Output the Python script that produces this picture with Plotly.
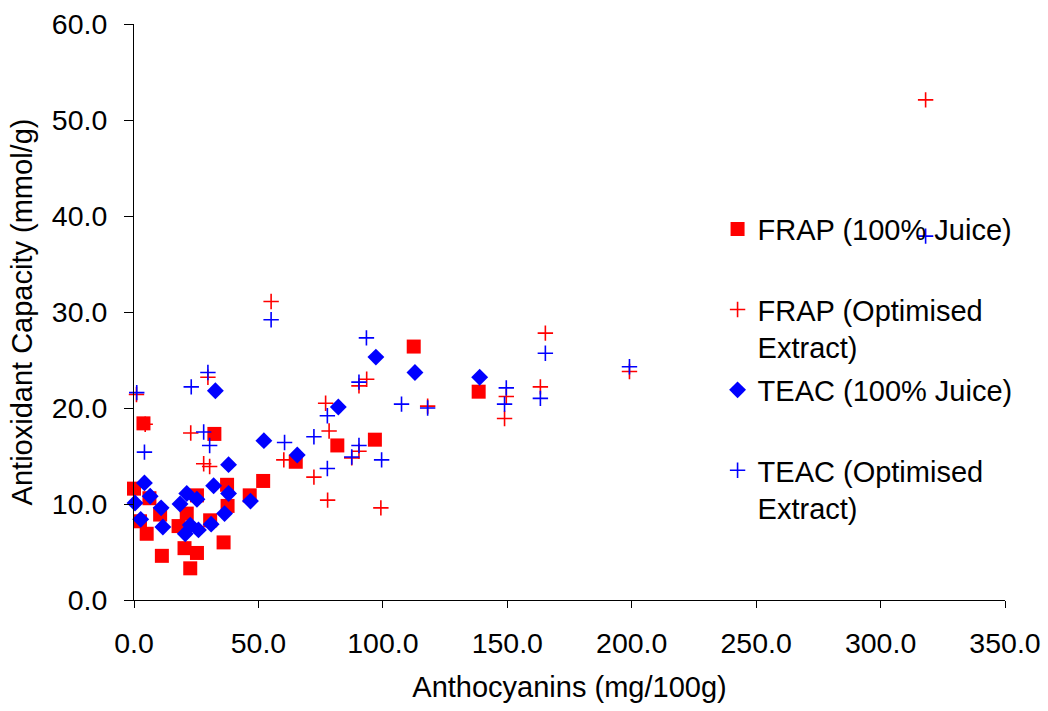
import plotly.graph_objects as go

# FRAP (100% Juice)
frap_juice_x = [0, 3.8, 2.4, 5.1, 6.2, 10.5, 11.2, 17.9, 20.3, 21.2, 22.6, 25.3, 25.3, 30.6, 32.3,
                36.0, 37.4, 37.6, 46.5, 51.9, 65.0, 81.7, 96.8, 112.4, 138.5]
frap_juice_y = [11.6, 18.4, 8.2, 6.9, 10.6, 8.9, 4.6, 7.7, 5.4, 9.0, 3.3, 10.9, 4.9, 8.3, 17.3,
                6.0, 12.0, 9.8, 10.9, 12.4, 14.4, 16.1, 16.7, 26.4, 21.7]

# FRAP (Optimised Extract)
frap_opt_x = [1.0, 4.5, 22.8, 28.0, 30.4, 29.7, 55.1, 60.2, 72.3, 77.0, 77.8, 78.4, 87.5, 90.4,
              90.4, 93.5, 99.2, 118.0, 148.9, 149.6, 163.3, 165.3, 199.1, 318.1]
frap_opt_y = [21.4, 18.3, 17.4, 14.2, 13.9, 23.2, 31.1, 14.6, 12.8, 20.5, 10.4, 17.6, 14.8, 15.5,
              22.3, 23.0, 9.6, 20.2, 18.9, 21.2, 22.2, 27.8, 23.8, 52.1]

# TEAC (100% Juice)
teac_juice_x = [0.4, 2.7, 4.2, 6.5, 10.9, 11.6, 18.5, 20.6, 21.2, 22.6, 25.3, 25.9, 31.0, 32.0,
                32.7, 36.4, 38.0, 38.0, 46.8, 52.2, 65.6, 82.1, 97.2, 112.9, 138.9]
teac_juice_y = [10.1, 8.4, 12.2, 10.8, 9.6, 7.6, 10.0, 6.9, 11.1, 7.8, 10.5, 7.3, 7.9, 11.9,
                21.8, 9.0, 11.1, 14.1, 10.3, 16.6, 15.1, 20.1, 25.3, 23.7, 23.2]

# TEAC (Optimised Extract)
teac_opt_x = [1.1, 4.2, 23.0, 28.0, 29.7, 30.4, 55.1, 60.5, 72.3, 77.7, 77.7, 87.5, 90.4, 90.4,
              93.4, 99.5, 107.5, 118.0, 148.9, 149.6, 163.3, 165.3, 199.1, 318.1]
teac_opt_y = [21.6, 15.4, 22.2, 17.5, 23.7, 16.1, 29.2, 16.4, 17.0, 13.7, 19.2, 14.9, 16.1, 22.7,
              27.3, 14.6, 20.4, 20.0, 20.4, 22.1, 21.0, 25.7, 24.3, 37.9]

names = ["FRAP (100% Juice)<br> ", "FRAP (Optimised<br>Extract)",
         "TEAC (100% Juice)<br> ", "TEAC (Optimised<br>Extract)"]

RED = "#FF0000"
BLUE = "#0000FF"

fig = go.Figure()
fig.add_trace(go.Scatter(x=frap_juice_x, y=frap_juice_y, mode="markers", name=names[0],
                         legendgroup="g1",
                         marker=dict(symbol="square", size=14, color=RED, line=dict(width=0)),
                         cliponaxis=False))
fig.add_trace(go.Scatter(x=frap_opt_x, y=frap_opt_y, mode="markers", name=names[1],
                         legendgroup="g2",
                         marker=dict(symbol="cross-thin", size=11, color=RED,
                                     line=dict(width=1.6, color=RED)),
                         cliponaxis=False))
fig.add_trace(go.Scatter(x=teac_juice_x, y=teac_juice_y, mode="markers", name=names[2],
                         legendgroup="g3",
                         marker=dict(symbol="diamond", size=13, color=BLUE, line=dict(width=0)),
                         cliponaxis=False))
fig.add_trace(go.Scatter(x=teac_opt_x, y=teac_opt_y, mode="markers", name=names[3],
                         legendgroup="g4",
                         marker=dict(symbol="cross-thin", size=11, color=BLUE,
                                     line=dict(width=1.6, color=BLUE)),
                         cliponaxis=False))

font = "Liberation Sans, Arial, sans-serif"
fig.update_layout(
    width=1048, height=711,
    margin=dict(l=134, r=43, t=24, b=111, autoexpand=False),
    paper_bgcolor="white", plot_bgcolor="white",
    font=dict(family=font, size=28, color="black"),
    showlegend=True,
    legend=dict(x=0.67, xanchor="left", y=0.688, yanchor="top",
                font=dict(size=29, family=font, color="black"),
                valign="top", bgcolor="rgba(0,0,0,0)", tracegroupgap=2,
                itemsizing="trace", groupclick="toggleitem"),
    xaxis=dict(range=[0, 350], dtick=50, tick0=0, tickformat=".1f",
               showgrid=False, zeroline=False, showline=True, linecolor="black", linewidth=1,
               ticks="outside", ticklen=7, tickcolor="black", tickwidth=1,
               ticklabelstandoff=11, automargin=False,
               title=dict(text="Anthocyanins (mg/100g)", font=dict(size=29), standoff=18),
               tickfont=dict(size=28.5)),
    yaxis=dict(range=[0, 60], dtick=10, tick0=0, tickformat=".1f",
               showgrid=False, zeroline=False, showline=True, linecolor="black", linewidth=1,
               ticks="outside", ticklen=9, tickcolor="black", tickwidth=1,
               ticklabelstandoff=11, automargin=False,
               title=dict(text="Antioxidant Capacity (mmol/g)", font=dict(size=29), standoff=10),
               tickfont=dict(size=28.5)),
)

fig.write_html("out.html")
